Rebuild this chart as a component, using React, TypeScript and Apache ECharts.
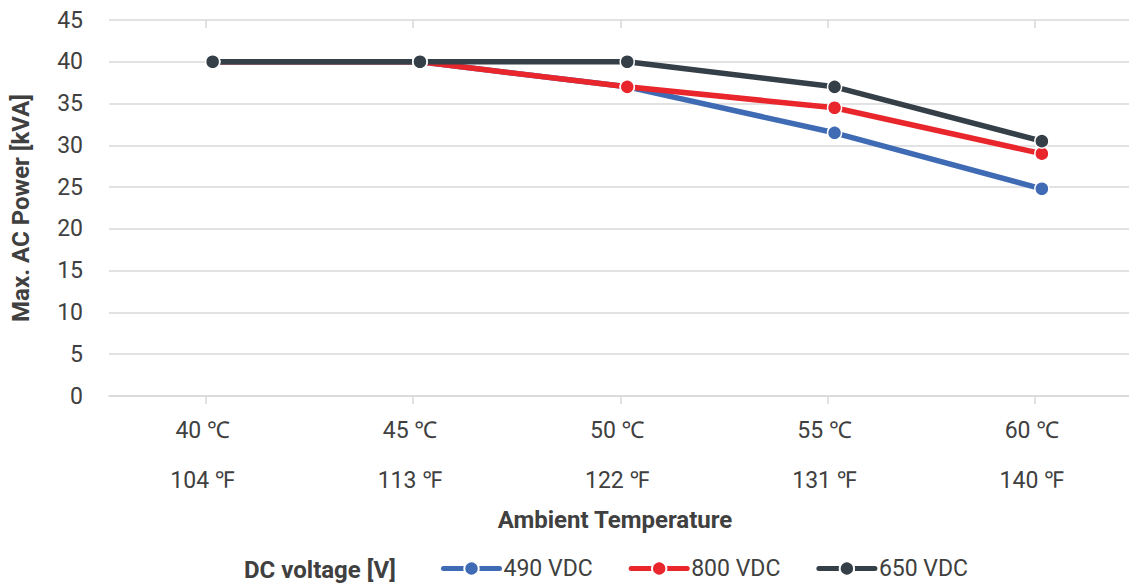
import React, { useEffect, useRef } from "react";
import * as echarts from "echarts";

const categories = ["40 ℃\n104 ℉", "45 ℃\n113 ℉", "50 ℃\n122 ℉", "55 ℃\n131 ℉", "60 ℃\n140 ℉"];
const seriesNames = ["490 VDC", "800 VDC", "650 VDC"];
const v490 = [40, 40, 37, 31.5, 24.8];
const v800 = [40, 40, 37, 34.5, 29];
const v650 = [40, 40, 40, 37, 30.5];
const colors = ["#3f6ab4", "#e8262c", "#343f47"];
const yTicks = { min: 0, max: 45, interval: 5 };

const CW = 1170;

export default function App() {
  const ref = useRef<HTMLDivElement>(null);
  useEffect(() => {
    if (!ref.current) return;
    document.body.style.margin = "0";
    document.body.style.overflow = "hidden";
    document.documentElement.style.overflow = "hidden";
    const chart = echarts.init(ref.current, null, { renderer: "svg" });
    const txt = "#404040";
    const font = "Roboto, 'Noto Sans', sans-serif";
    const mk = (name: string, data: number[], color: string) => ({
      name,
      type: "line",
      xAxisIndex: 0,
      yAxisIndex: 0,
      data,
      symbol: "circle",
      symbolSize: 14,
      lineStyle: { width: 5.5, color },
      itemStyle: { color, borderColor: "#ffffff", borderWidth: 1.5 },
      z: 3,
    });
    chart.setOption({
      animation: false,
      backgroundColor: "#ffffff",
      textStyle: { fontFamily: font },
      grid: [
        { left: 109, right: CW - 1145.5, top: 20, bottom: 192 },
        { left: 102, right: CW - 1138.5, top: 20, bottom: 192 },
      ],
      xAxis: [
        {
          type: "category",
          gridIndex: 0,
          data: categories,
          boundaryGap: true,
          axisLine: { show: true, lineStyle: { color: "#d9d9d9", width: 1.5 } },
          axisTick: { show: false },
          axisLabel: { show: false },
        },
        {
          type: "category",
          gridIndex: 1,
          data: categories,
          boundaryGap: true,
          axisLine: { show: false },
          axisTick: { show: true, alignWithLabel: true, length: 8, lineStyle: { color: "#d9d9d9", width: 1.5 } },
          axisLabel: { color: txt, fontSize: 23, fontFamily: font, lineHeight: 50, margin: 9, padding: [0, 6, 0, 0] },
        },
        {
          type: "category",
          gridIndex: 1,
          data: categories,
          boundaryGap: true,
          axisLine: { show: false },
          axisTick: { show: true, inside: true, alignWithLabel: true, length: 8, lineStyle: { color: "#d9d9d9", width: 1.5 } },
          axisLabel: { show: false },
        },
      ],
      yAxis: [
        {
          type: "value",
          gridIndex: 0,
          ...yTicks,
          axisLine: { show: false },
          axisTick: { show: false },
          splitLine: { lineStyle: { color: "#d9d9d9", width: 1.5 } },
          axisLabel: { color: txt, fontSize: 23, fontFamily: font, margin: 26 },
          name: "Max. AC Power [kVA]",
          nameLocation: "middle",
          nameGap: 76,
          nameTextStyle: { color: txt, fontSize: 24, fontWeight: "bold", fontFamily: font },
        },
        {
          type: "value",
          gridIndex: 1,
          ...yTicks,
          show: false,
        },
      ],
      legend: {
        left: 441,
        top: 557,
        padding: 0,
        itemWidth: 56,
        itemHeight: 18,
        itemGap: 36,
        data: seriesNames,
        lineStyle: { width: 5, cap: "round" },
        textStyle: { color: txt, fontSize: 23, fontFamily: font, padding: [0, 0, 0, -1] },
      },
      graphic: [
        {
          type: "text",
          left: 244,
          top: 558,
          style: { text: "DC voltage [V]", fill: txt, font: `bold 24px ${font}` },
        },
        {
          type: "text",
          x: 615,
          y: 520,
          style: {
            text: "Ambient Temperature",
            fill: txt,
            font: `bold 24px ${font}`,
            align: "center",
            verticalAlign: "middle",
          },
        },
      ],
      series: [mk(seriesNames[0], v490, colors[0]), mk(seriesNames[1], v800, colors[1]), mk(seriesNames[2], v650, colors[2])],
    });
    return () => chart.dispose();
  }, []);
  return (
    <div style={{ position: "fixed", left: 0, top: 0, width: 1129, height: 588, overflow: "hidden" }}>
      <div ref={ref} style={{ width: CW, height: 588 }} />
    </div>
  );
}
